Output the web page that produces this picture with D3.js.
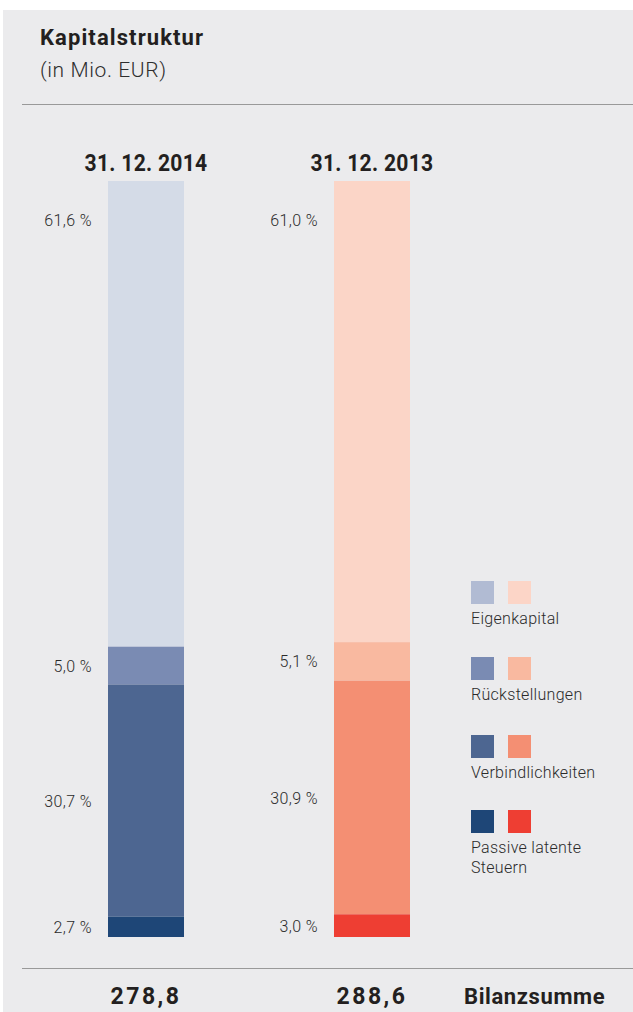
<!DOCTYPE html>
<html>
<head>
<meta charset="utf-8">
<script src="https://cdn.jsdelivr.net/npm/d3@7"></script>
<style>
  body { margin: 0; background: #fff; }
  svg { display: block; }
  .cond { font-family: "Roboto", "Liberation Sans", sans-serif; }
</style>
</head>
<body>
<svg id="kc-chart" width="633" height="1012"></svg>
<script>
// data
const years = ['31. 12. 2014', '31. 12. 2013'];
const categories = ['Eigenkapital', 'Rückstellungen', 'Verbindlichkeiten', 'Passive latente Steuern'];
const share2014 = [61.6, 5.0, 30.7, 2.7];
const share2013 = [61.0, 5.1, 30.9, 3.0];
const totals = ['278,8', '288,6'];
const colors2014 = ['#d4dbe7', '#7a8bb3', '#4d6691', '#1e4677'];
const colors2013 = ['#fbd5c7', '#f9b9a0', '#f48f73', '#ee3e33'];
const legend2014 = ['#b1bbd3', '#7a8bb3', '#4d6691', '#1e4677'];
const legend2013 = ['#fcd5c7', '#f9b9a0', '#f48f73', '#ee3e33'];

let svg = d3.select('#kc-chart');

// panel
svg.append('rect')
  .attr('x', 3).attr('y', 10)
  .attr('width', 630).attr('height', 1002)
  .attr('fill', '#ebebed');

svg.append('text').attr('class', 'cond')
  .attr('x', 40).attr('y', 45)
  .attr('font-size', 22).attr('font-weight', 'bold')
  .attr('fill', '#231f20').attr('letter-spacing', 1.1)
  .text('Kapitalstruktur');
svg.append('text').attr('class', 'cond')
  .attr('x', 40).attr('y', 77)
  .attr('font-size', 21).attr('font-weight', 300).attr('fill', '#2e2e2e')
  .attr('letter-spacing', 0.6)
  .text('(in Mio. EUR)');

svg.append('line')
  .attr('x1', 22).attr('x2', 633).attr('y1', 104.5).attr('y2', 104.5)
  .attr('stroke', '#999').attr('stroke-width', 1);
svg.append('line')
  .attr('x1', 22).attr('x2', 633).attr('y1', 968.5).attr('y2', 968.5)
  .attr('stroke', '#999').attr('stroke-width', 1);

// scales
let x = d3.scaleBand().domain(years).range([33, 485]).paddingInner(0.6637).paddingOuter(0.3319);
let y = d3.scaleLinear().domain([0, 100]).range([181, 937]);

let bars = [
  { year: years[0], shares: share2014, colors: colors2014, total: totals[0] },
  { year: years[1], shares: share2013, colors: colors2013, total: totals[1] }
];

bars.forEach(function (b) {
  let cum = 0;
  let segs = b.shares.map(function (v, i) {
    let s = { cat: categories[i], v: v, start: cum, color: b.colors[i] };
    cum += v;
    return s;
  });
  let bx = x(b.year);
  let bw = x.bandwidth();
  let cx = bx + bw / 2;
  let g = svg.append('g');

  g.selectAll('rect')
    .data(segs)
    .enter().append('rect')
    .attr('x', bx)
    .attr('y', d => y(d.start))
    .attr('width', bw)
    .attr('height', d => y(d.start + d.v) - y(d.start))
    .attr('fill', d => d.color);

  g.selectAll('text.pct')
    .data(segs)
    .enter().append('text')
    .attr('class', 'pct cond')
    .attr('x', bx - 16)
    .attr('y', (d, i) => i === 0 ? y(d.start) + 45 : (y(d.start) + y(d.start + d.v)) / 2 + 6)
    .attr('text-anchor', 'end')
    .attr('font-size', 16).attr('font-weight', 300).attr('fill', '#2a2a2a')
    .attr('letter-spacing', 0.4)
    .text(d => d3.format('.1f')(d.v).replace('.', ',') + ' %');

  g.append('text').attr('class', 'cond')
    .attr('transform', 'translate(' + cx + ',171) scale(0.88,1)')
    .attr('text-anchor', 'middle')
    .attr('font-size', 24).attr('font-weight', 'bold')
    .attr('fill', '#231f20').attr('letter-spacing', 0.3)
    .text(b.year);

  g.append('text').attr('class', 'cond')
    .attr('x', cx).attr('y', 1004)
    .attr('text-anchor', 'middle')
    .attr('font-size', 23).attr('font-weight', 'bold')
    .attr('fill', '#231f20').attr('letter-spacing', 2.5)
    .text(b.total);
});

svg.append('text').attr('class', 'cond')
  .attr('x', 464).attr('y', 1004)
  .attr('font-size', 22).attr('font-weight', 'bold')
  .attr('fill', '#231f20').attr('letter-spacing', 0.6)
  .text('Bilanzsumme');

// legend
let legendY = [581, 657, 735, 810];
let lg = svg.append('g').selectAll('g')
  .data(categories)
  .enter().append('g')
  .attr('transform', (d, i) => 'translate(471,' + legendY[i] + ')');
lg.append('rect').attr('width', 23).attr('height', 23).attr('fill', (d, i) => legend2014[i]);
lg.append('rect').attr('x', 37).attr('width', 23).attr('height', 23).attr('fill', (d, i) => legend2013[i]);
lg.append('text').attr('class', 'cond')
  .attr('y', 43)
  .attr('font-size', 16).attr('font-weight', 300).attr('fill', '#2a2a2a')
  .attr('letter-spacing', 0.3)
  .each(function (d) {
    let words = d === 'Passive latente Steuern' ? ['Passive latente', 'Steuern'] : [d];
    d3.select(this).selectAll('tspan')
      .data(words)
      .enter().append('tspan')
      .attr('x', 0)
      .attr('dy', (w, j) => j === 0 ? 0 : 20)
      .text(w => w);
  });
</script>
</body>
</html>
